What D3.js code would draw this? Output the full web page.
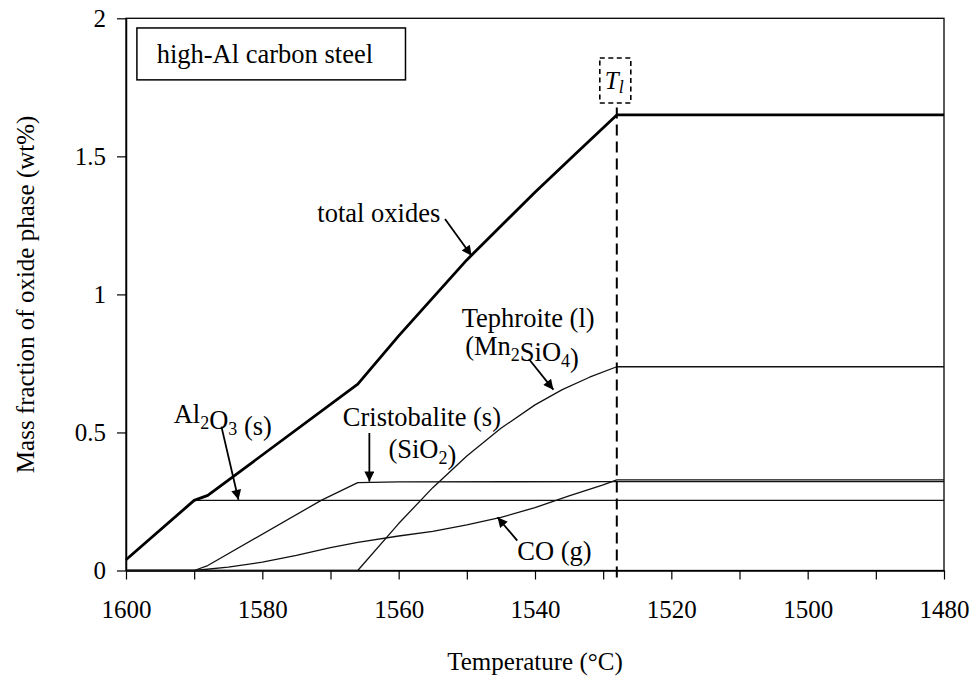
<!DOCTYPE html>
<html>
<head>
<meta charset="utf-8">
<script src="https://cdn.jsdelivr.net/npm/d3@7/dist/d3.min.js"></script>
<style>
  html, body { margin: 0; padding: 0; background: #fff; }
  svg { display: block; font-family: "Liberation Serif", "Times New Roman", serif; }
</style>
</head>
<body>
<svg id="chart" width="975" height="683"></svg>
<script>
// Oxide phase mass fractions (wt%) versus temperature (°C) for a high-Al carbon steel
const totalT = [1600, 1590, 1588, 1566, 1560, 1550, 1540, 1534, 1528, 1480];
const totalV = [0.039, 0.254, 0.272, 0.675, 0.85, 1.125, 1.37, 1.51, 1.65, 1.65];

const al2o3T = [1600, 1590, 1480];
const al2o3V = [0.039, 0.254, 0.254];

const cristT = [1600, 1590, 1588, 1571.3, 1566, 1560, 1528, 1480];
const cristV = [0, 0, 0.018, 0.255, 0.318, 0.321, 0.322, 0.322];

const tephT = [1600, 1566, 1560, 1555, 1550, 1545, 1540, 1536, 1532, 1528, 1480];
const tephV = [0, 0, 0.17, 0.30, 0.415, 0.515, 0.60, 0.655, 0.70, 0.738, 0.738];

const coT = [1600, 1590, 1585, 1580, 1575, 1570, 1566, 1560, 1555, 1550, 1545, 1540, 1535, 1530, 1528, 1480];
const coV = [0, 0, 0.012, 0.03, 0.055, 0.083, 0.102, 0.125, 0.142, 0.165, 0.192, 0.228, 0.27, 0.31, 0.328, 0.328];

const liquidusT = 1528;

const xTicks = d3.range(1600, 1479, -10);
const xTickLabels = [1600, 1580, 1560, 1540, 1520, 1500, 1480];
const yTicks = [0, 0.5, 1, 1.5, 2];

const W = 975, H = 683;
const margin = { top: 18.3, right: 31, bottom: 112.5, left: 126 };
const serif = '"Liberation Serif", "Times New Roman", serif';

const svg = d3.select("#chart");

const x = d3.scaleLinear().domain([1600, 1480]).range([margin.left, W - margin.right]);
const y = d3.scaleLinear().domain([0, 2]).range([H - margin.bottom, margin.top]);

const zip = (ts, vs) => ts.map((t, i) => [t, vs[i]]);
const line = d3.line().x(d => x(d[0])).y(d => y(d[1]));

// Plot frame
svg.append("rect")
  .attr("x", x(1600)).attr("y", y(2))
  .attr("width", x(1480) - x(1600)).attr("height", y(0) - y(2))
  .attr("fill", "none").attr("stroke", "#000").attr("stroke-width", 1.3);

// Axes
const xAxis = d3.axisBottom(x).tickValues(xTicks)
  .tickFormat(d => xTickLabels.includes(d) ? d3.format("d")(d) : "")
  .tickSize(9).tickSizeOuter(0).tickPadding(21);
const gx = svg.append("g").attr("transform", `translate(0,${y(0)})`).call(xAxis);

const yAxis = d3.axisLeft(y).tickValues(yTicks)
  .tickFormat(d => String(d))
  .tickSize(9).tickSizeOuter(0).tickPadding(11);
const gy = svg.append("g").attr("transform", `translate(${x(1600)},0)`).call(yAxis);

[gx, gy].forEach(g => {
  g.attr("font-family", serif);
  g.select(".domain").attr("stroke", "#000").attr("stroke-width", 1.5);
  g.selectAll(".tick line").attr("stroke", "#000").attr("stroke-width", 1.2);
  g.selectAll(".tick text").attr("fill", "#000")
    .style("font-family", serif)
    .style("font-size", "25px");
});

// Axis titles
svg.append("text")
  .attr("x", (x(1600) + x(1480)) / 2).attr("y", 670)
  .attr("text-anchor", "middle").style("font-size", "25px")
  .text("Temperature (°C)");

svg.append("text")
  .attr("transform", `translate(34,${(y(0) + y(2)) / 2}) rotate(-90)`)
  .attr("text-anchor", "middle").style("font-size", "25px")
  .text("Mass fraction of oxide phase (wt%)");

// Phase curves
const thin = [
  zip(al2o3T, al2o3V),
  zip(cristT, cristV),
  zip(tephT, tephV),
  zip(coT, coV)
];
svg.append("g").selectAll("path").data(thin).join("path")
  .attr("d", line).attr("fill", "none")
  .attr("stroke", "#111").attr("stroke-width", 1.3)
  .attr("stroke-linejoin", "round");

svg.append("path").datum(zip(totalT, totalV))
  .attr("d", line).attr("fill", "none")
  .attr("stroke", "#000").attr("stroke-width", 2.8)
  .attr("stroke-linejoin", "round");

// Liquidus temperature marker
const xl = x(liquidusT);
svg.append("line")
  .attr("x1", xl).attr("x2", xl)
  .attr("y1", y(0) + 7).attr("y2", 103)
  .attr("stroke", "#000").attr("stroke-width", 2)
  .attr("stroke-dasharray", "11,6");

svg.append("rect")
  .attr("x", xl - 17).attr("y", 58).attr("width", 31).attr("height", 45)
  .attr("fill", "#fff").attr("stroke", "#000").attr("stroke-width", 1.6)
  .attr("stroke-dasharray", "5,3.5");

const tl = svg.append("text").attr("x", xl - 12).attr("y", 89)
  .style("font-size", "25px").style("font-style", "italic");
tl.append("tspan").text("T");
tl.append("tspan").attr("dy", 4).style("font-size", "18px").text("l");

// Alloy label box
svg.append("rect")
  .attr("x", x(1598.4)).attr("y", y(1.965))
  .attr("width", x(1559.0) - x(1598.4)).attr("height", y(1.777) - y(1.965))
  .attr("fill", "#fff").attr("stroke", "#000").attr("stroke-width", 1.5);
svg.append("text")
  .attr("x", x(1595.5)).attr("y", y(1.838))
  .style("font-size", "26.5px").text("high-Al carbon steel");

// Curve labels
function label(T, v, parts, anchor) {
  const t = svg.append("text").attr("x", x(T)).attr("y", y(v))
    .attr("text-anchor", anchor || "start").style("font-size", "26.5px");
  parts.forEach(p => {
    if (typeof p === "string") {
      t.append("tspan").text(p);
    } else {
      t.append("tspan").attr("dy", 6).style("font-size", "18px").text(p.sub);
      t.append("tspan").attr("dy", -6).text("");
    }
  });
  return t;
}

label(1553.9, 1.262, ["total oxides"], "end");
label(1541.0, 0.883, ["Tephroite (l)"], "middle");
label(1541.9, 0.780, ["(Mn", { sub: "2" }, "SiO", { sub: "4" }, ")"], "middle");
label(1568.2, 0.523, ["Cristobalite (s)"]);
label(1561.5, 0.406, ["(SiO", { sub: "2" }, ")"]);
label(1593.0, 0.535, ["Al", { sub: "2" }, "O", { sub: "3" }, " (s)"]);
label(1542.6, 0.038, ["CO (g)"]);

// Leader arrows: [fromT, fromV, toT, toV]
const arrows = [
  [1553.2, 1.273, 1549.3, 1.140],
  [1540.9, 0.766, 1537.3, 0.655],
  [1564.3, 0.498, 1564.3, 0.322],
  [1586.0, 0.521, 1583.5, 0.256],
  [1542.6, 0.108, 1545.5, 0.193]
];

svg.append("defs").append("marker")
  .attr("id", "head").attr("viewBox", "0 0 10 10")
  .attr("refX", 10).attr("refY", 5)
  .attr("markerWidth", 12).attr("markerHeight", 10)
  .attr("markerUnits", "userSpaceOnUse")
  .attr("orient", "auto")
  .append("path").attr("d", "M0,0 L10,5 L0,10 Z").attr("fill", "#000");

svg.append("g").selectAll("line").data(arrows).join("line")
  .attr("x1", d => x(d[0])).attr("y1", d => y(d[1]))
  .attr("x2", d => x(d[2])).attr("y2", d => y(d[3]))
  .attr("stroke", "#000").attr("stroke-width", 1.8)
  .attr("marker-end", "url(#head)");
</script>
</body>
</html>
